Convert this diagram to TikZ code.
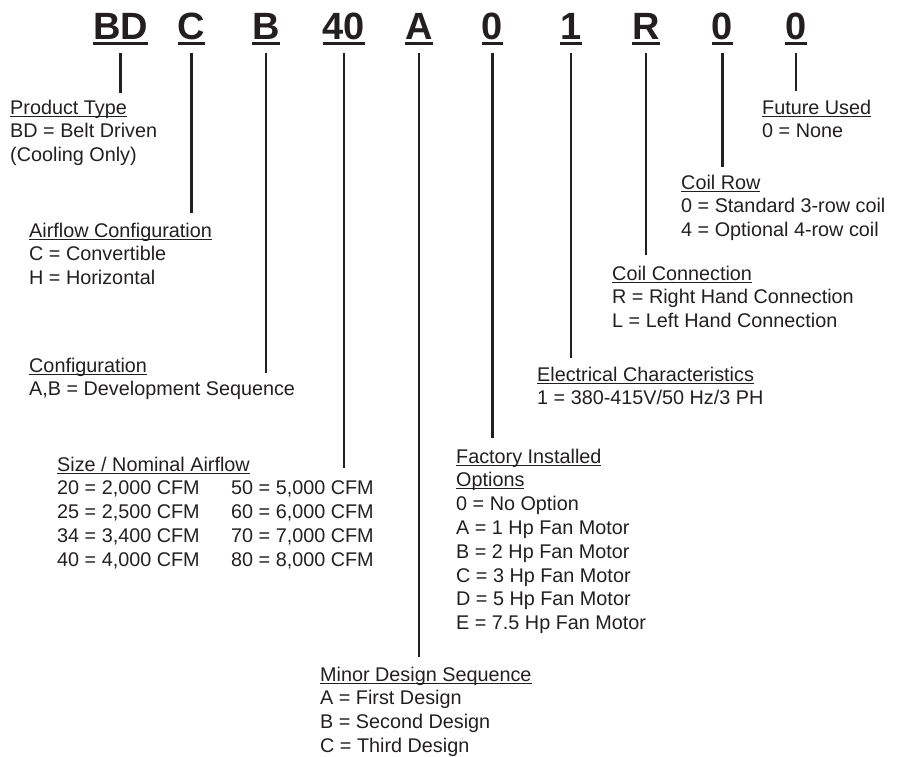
\documentclass[tikz,border=0pt]{standalone}
\usepackage{fontspec}
\setmainfont{Liberation Sans}
\usepackage{tikz}
\definecolor{ink}{HTML}{231F20}
\newlength{\undldp}
\newlength{\undlwd}
\newcommand{\undl}[1]{\setbox0\hbox{#1}\rlap{\rule[-\dimexpr\undldp+\undlwd\relax]{\wd0}{\undlwd}}\box0}

\begin{document}
\begin{tikzpicture}[x=1pt, y=-1pt, color=ink,
  code/.style={anchor=base, inner sep=0pt, text depth=0pt,
    font=\fontsize{38}{38}\selectfont\bfseries\setlength{\undldp}{3pt}\setlength{\undlwd}{2.6pt}},
  txt/.style={anchor=base west, inner sep=0pt,
    font=\fontsize{19.8}{24}\selectfont\setlength{\undldp}{1.5pt}\setlength{\undlwd}{1pt}},
  lead/.style={line width=2.2pt, shorten <=14pt}]
\useasboundingbox (0,0) rectangle (904,756);

% model number
\node[code] (hdType)  at (120.5,39) {\undl{BD}};
\node[code] (hdAir)   at (191.5,39) {\undl{C}};
\node[code] (hdConf)  at (266,39)   {\undl{B}};
\node[code] (hdSize)  at (344,39)   {\undl{40}};
\node[code] (hdMinor) at (419,39)   {\undl{A}};
\node[code] (hdOpt)   at (492.5,39) {\undl{0}};
\node[code] (hdElec)  at (571,39)   {\undl{1}};
\node[code] (hdConn)  at (646,39)   {\undl{R}};
\node[code] (hdRow)   at (722.5,39) {\undl{0}};
\node[code] (hdFut)   at (796,39)   {\undl{0}};

% product type
\node[txt] (type)  at (10,114)    {\undl{Product Type}};
\node[txt] (type1) at (10,137.8)  {BD = Belt Driven};
\node[txt] (type2) at (10,161.6)  {(Cooling Only)};

% airflow configuration
\node[txt] (air)  at (29,237)   {\undl{Airflow Configuration}};
\node[txt] (air1) at (29,260.8) {C = Convertible};
\node[txt] (air2) at (29,284.6) {H = Horizontal};

% configuration
\node[txt] (conf)  at (29,372)   {\undl{Configuration}};
\node[txt] (conf1) at (29,395.8) {A,B = Development Sequence};

% size
\node[txt] (size)  at (57,471)    {\undl{Size / Nominal Airflow}};
\node[txt] (size1) at (57,494.8)  {20 = 2,000 CFM};
\node[txt] (size2) at (57,518.6)  {25 = 2,500 CFM};
\node[txt] (size3) at (57,542.4)  {34 = 3,400 CFM};
\node[txt] (size4) at (57,566.2)  {40 = 4,000 CFM};
\node[txt] (size5) at (231,494.8) {50 = 5,000 CFM};
\node[txt] (size6) at (231,518.6) {60 = 6,000 CFM};
\node[txt] (size7) at (231,542.4) {70 = 7,000 CFM};
\node[txt] (size8) at (231,566.2) {80 = 8,000 CFM};

% minor design sequence
\node[txt] (minor)  at (320,681)   {\undl{Minor Design Sequence}};
\node[txt] (minor1) at (320,704.8) {A = First Design};
\node[txt] (minor2) at (320,728.6) {B = Second Design};
\node[txt] (minor3) at (320,752.4) {C = Third Design};

% factory installed options
\node[txt] (opt)  at (456,463)   {\undl{Factory Installed}};
\node[txt] (optb) at (456,486.8) {\undl{Options}};
\node[txt] (opt1) at (456,510.6) {0 = No Option};
\node[txt] (opt2) at (456,534.4) {A = 1 Hp Fan Motor};
\node[txt] (opt3) at (456,558.2) {B = 2 Hp Fan Motor};
\node[txt] (opt4) at (456,582)   {C = 3 Hp Fan Motor};
\node[txt] (opt5) at (456,605.8) {D = 5 Hp Fan Motor};
\node[txt] (opt6) at (456,629.6) {E = 7.5 Hp Fan Motor};

% electrical characteristics
\node[txt] (elec)  at (537,381)   {\undl{Electrical Characteristics}};
\node[txt] (elec1) at (537,404.8) {1 = 380-415V/50 Hz/3 PH};

% coil connection
\node[txt] (conn)  at (612,280)   {\undl{Coil Connection}};
\node[txt] (conn1) at (612,303.8) {R = Right Hand Connection};
\node[txt] (conn2) at (612,327.6) {L = Left Hand Connection};

% coil row
\node[txt] (row)  at (681,189)   {\undl{Coil Row}};
\node[txt] (row1) at (681,212.8) {0 = Standard 3-row coil};
\node[txt] (row2) at (681,236.6) {4 = Optional 4-row coil};

% future used
\node[txt] (fut)  at (762,114)   {\undl{Future Used}};
\node[txt] (fut1) at (762,137.8) {0 = None};

% leader ends
\coordinate (typeEnd)  at (120.5,93);
\coordinate (airEnd)   at (191.5,213);
\coordinate (confEnd)  at (266,373);
\coordinate (sizeEnd)  at (344,468);
\coordinate (minorEnd) at (419,657);
\coordinate (optEnd)   at (492.5,438);
\coordinate (elecEnd)  at (571,358);
\coordinate (connEnd)  at (646,255);
\coordinate (rowEnd)   at (722.5,167);
\coordinate (futEnd)   at (796,91);

\draw[lead] (hdType.south)  -- (typeEnd);
\draw[lead] (hdAir.south)   -- (airEnd);
\draw[lead] (hdConf.south)  -- (confEnd);
\draw[lead] (hdSize.south)  -- (sizeEnd);
\draw[lead] (hdMinor.south) -- (minorEnd);
\draw[lead] (hdOpt.south)   -- (optEnd);
\draw[lead] (hdElec.south)  -- (elecEnd);
\draw[lead] (hdConn.south)  -- (connEnd);
\draw[lead] (hdRow.south)   -- (rowEnd);
\draw[lead] (hdFut.south)   -- (futEnd);
\end{tikzpicture}
\end{document}
